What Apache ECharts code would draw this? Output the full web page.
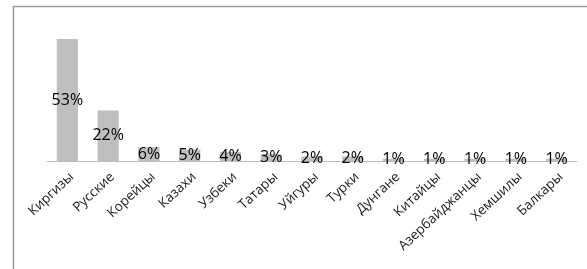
<!DOCTYPE html>
<html>
<head>
<meta charset="utf-8">
<script src="https://cdn.jsdelivr.net/npm/echarts@6/dist/echarts.min.js"></script>
<style>
  html, body { margin: 0; padding: 0; background: #fff; }
  #chart { width: 587px; height: 269px; }
</style>
</head>
<body>
<div id="chart"></div>
<script>
// национальности и доли, %
var categories = ['Киргизы', 'Русские', 'Корейцы', 'Казахи', 'Узбеки', 'Татары', 'Уйгуры',
                  'Турки', 'Дунгане', 'Китайцы', 'Азербайджанцы', 'Хемшилы', 'Балкары'];
var values = [53, 22, 6, 5, 4, 3, 2, 2, 1, 1, 1, 1, 1];

var chart = echarts.init(document.getElementById('chart'));

var option = {
  backgroundColor: '#fff',
  animation: false,
  graphic: [{
    type: 'rect',
    left: 11, top: 4,
    shape: { width: 600, height: 300 },
    style: { fill: 'none', stroke: '#9a9a9a', lineWidth: 1.5 }
  }],
  grid: {
    left: 47,
    right: 10,
    top: 23,
    bottom: 108
  },
  xAxis: {
    type: 'category',
    data: categories,
    axisLine: { lineStyle: { color: '#bdbdbd', width: 1 } },
    axisTick: { show: false },
    axisLabel: {
      rotate: 43,
      interval: 0,
      margin: 18,
      padding: [0, -6, 0, 0],
      color: '#1a1a1a',
      fontSize: 13.5,
      fontFamily: 'Open Sans'
    }
  },
  yAxis: {
    type: 'value',
    min: 0,
    max: 60,
    show: false,
    splitLine: { show: false }
  },
  series: [{
    type: 'bar',
    data: values,
    barWidth: '52%',
    itemStyle: { color: '#bfbfbf' },
    label: {
      show: true,
      position: 'inside',
      color: '#000',
      fontSize: 16,
      fontFamily: 'Open Sans',
      formatter: function (p) { return p.value + '%'; }
    }
  }]
};

chart.setOption(option);
</script>
</body>
</html>
